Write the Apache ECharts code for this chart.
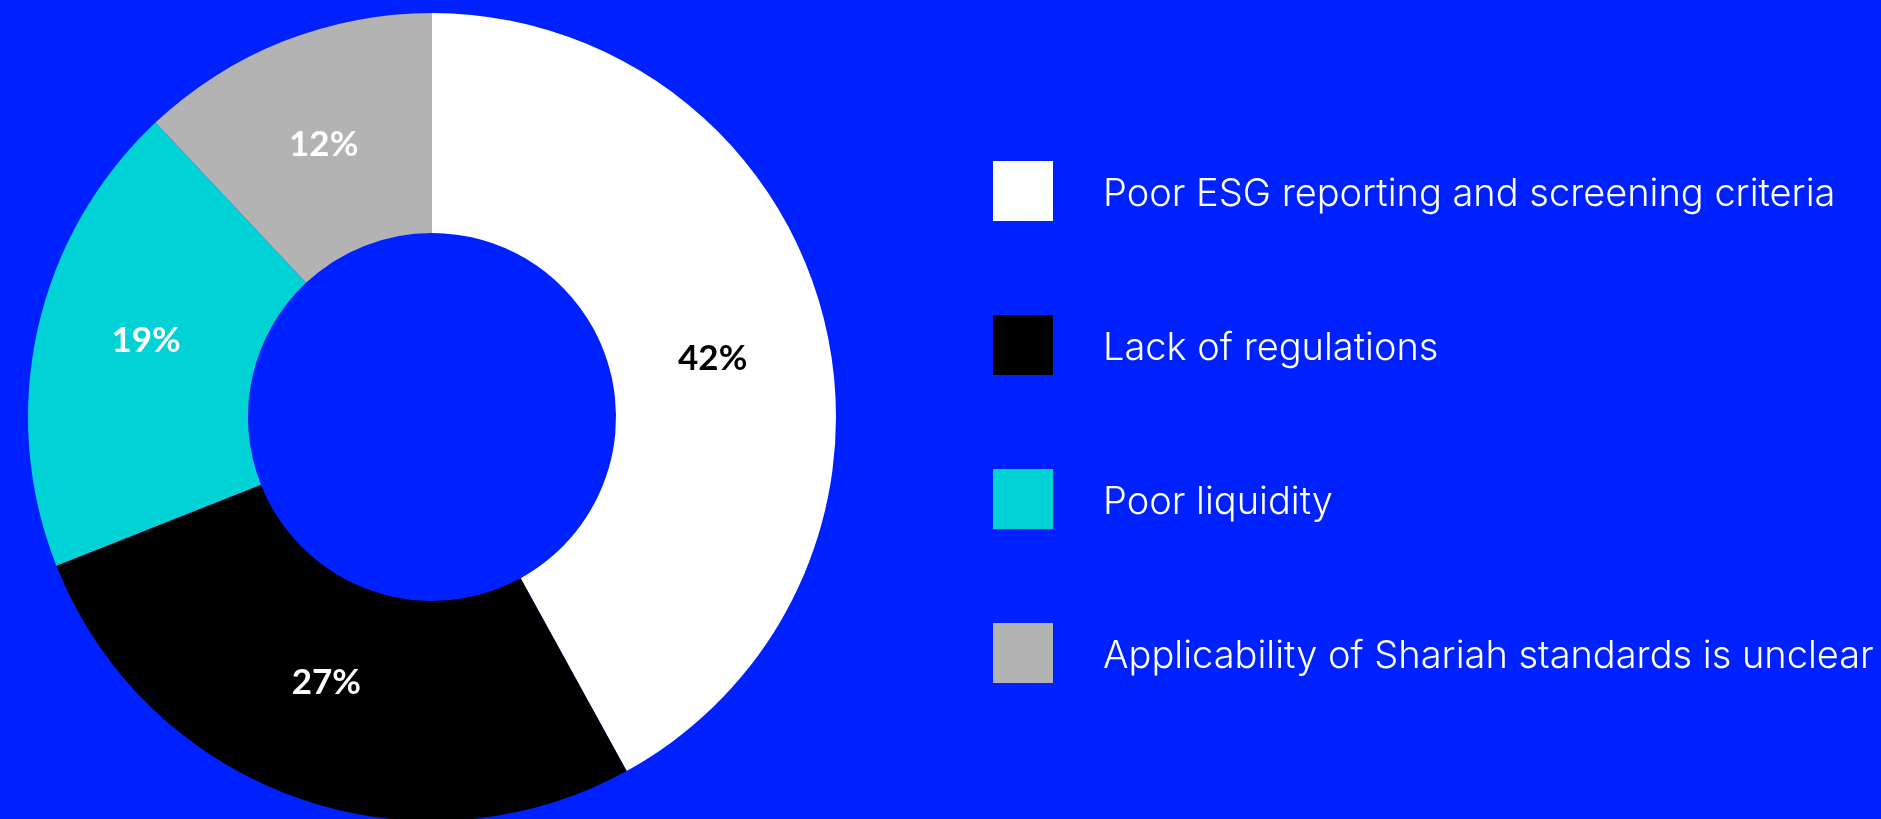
<!DOCTYPE html>
<html>
<head>
<meta charset="utf-8">
<script src="https://cdn.jsdelivr.net/npm/echarts@6/dist/echarts.min.js"></script>
<style>
html,body{margin:0;padding:0;background:#0021FF;}
#chart{width:1881px;height:819px;}
</style>
</head>
<body>
<div id="chart"></div>
<script>
const categories = [
  "Poor ESG reporting and screening criteria",
  "Lack of regulations",
  "Poor liquidity",
  "Applicability of Shariah standards is unclear"
];
const values = [42, 27, 19, 12];
const colors = ["#FFFFFF", "#000000", "#00D2D6", "#B3B3B3"];
const labelColors = ["#000000", "#FFFFFF", "#FFFFFF", "#FFFFFF"];
const labelOffsets = [[-7, 16], [-5, -14], [4, -11], [1, 4]];

const chart = echarts.init(document.getElementById('chart'), null, {renderer: 'canvas'});
chart.setOption({
  backgroundColor: '#0021FF',
  animation: false,
  legend: {
    orient: 'vertical',
    left: 993,
    top: 161,
    padding: 0,
    itemWidth: 60,
    itemHeight: 60,
    itemGap: 94,
    icon: 'rect',
    selectedMode: false,
    data: categories,
    formatter: name => '{t|' + name + '}',
    textStyle: {
      color: '#FFFFFF',
      fontFamily: 'Inter',
      fontWeight: 300,
      fontSize: 38,
      padding: [0, 0, 0, 45],
      rich: {
        t: {
          color: '#FFFFFF',
          fontFamily: 'Inter',
          fontWeight: 300,
          fontSize: 38,
          padding: [8, 0, 0, 0]
        }
      }
    }
  },
  series: [{
    type: 'pie',
    center: [432, 417],
    radius: [184, 404],
    startAngle: 90,
    clockwise: true,
    silent: true,
    avoidLabelOverlap: false,
    label: {
      show: true,
      position: 'inside',
      formatter: '{c}%',
      fontFamily: 'Lato',
      fontWeight: 'bold',
      fontSize: 35
    },
    labelLine: {show: false},
    itemStyle: {borderWidth: 0},
    data: categories.map((c, i) => ({
      name: c,
      value: values[i],
      itemStyle: {color: colors[i]},
      label: {color: labelColors[i], offset: labelOffsets[i]}
    }))
  }]
});
</script>
</body>
</html>
